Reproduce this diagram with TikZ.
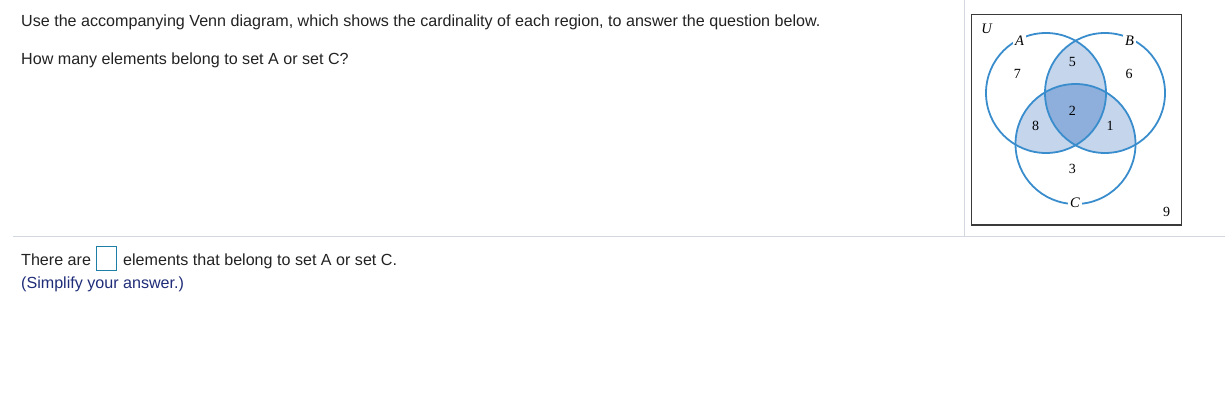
\documentclass[tikz,border=0pt]{standalone}
\usepackage{fontspec}
\setmainfont{Liberation Sans}
\newfontfamily\serifnum{Liberation Serif}
\definecolor{vennline}{HTML}{3A8DCC}
\definecolor{lightfill}{HTML}{C4D5EC}
\definecolor{darkfill}{HTML}{8EAFDB}
\definecolor{sepline}{HTML}{D3D7E0}
\definecolor{boxline}{HTML}{3A3A3A}
\definecolor{ansbox}{HTML}{1E7FA6}
\definecolor{hintblue}{HTML}{1F2C78}
\definecolor{maintext}{HTML}{222222}
\begin{document}
\begin{tikzpicture}[x=1pt,y=-1pt,
  qtext/.style={anchor=base west,inner sep=0pt,font=\fontsize{16.1}{18}\selectfont,text=maintext},
  setcircle/.style={circle,draw=vennline,line width=1.8pt,minimum size=120pt,inner sep=0pt},
  setlabel/.style={fill=white,inner xsep=2.5pt,inner ysep=1pt,font=\serifnum\itshape\fontsize{14.5}{16}\selectfont},
  count/.style={inner sep=0pt,font=\serifnum\fontsize{14}{16}\selectfont}]
\useasboundingbox (0,0) rectangle (1225,412);
% separators
\coordinate (vtop) at (964,0);
\coordinate (vbot) at (964,236);
\coordinate (hl) at (13,236);
\coordinate (hr) at (1225,236);
\draw[sepline,line width=0.9pt] (vtop) -- (vbot);
\draw[sepline,line width=0.9pt] (hl) -- (hr);
% texts
\node[qtext] (q1) at (21,27) {Use the accompanying Venn diagram, which shows the cardinality of each region, to answer the question below.};
\node[qtext] (q2) at (21,64) {How many elements belong to set A or set C?};
\node[qtext] (a1) at (21,265) {There are};
\node[draw=ansbox,line width=0.9pt,minimum width=20pt,minimum height=24pt,inner sep=0pt] (ans) at (106.7,258.3) {};
\node[qtext] (a2) at (123,265) {elements that belong to set A or set C.};
\node[qtext,text=hintblue] (hint) at (21,288.5) {(Simplify your answer.)};
% universe box
\node[draw=boxline,line width=1.4pt,minimum width=210pt,minimum height=210.5pt,inner sep=0pt] (U) at (1076.7,119.7) {};
% fills
\begin{scope}
  \clip (1046,93) circle (60);
  \fill[lightfill] (1105,93) circle (60);
  \fill[lightfill] (1075.5,144) circle (60);
\end{scope}
\begin{scope}
  \clip (1105,93) circle (60);
  \fill[lightfill] (1075.5,144) circle (60);
\end{scope}
\begin{scope}
  \clip (1046,93) circle (60);
  \clip (1105,93) circle (60);
  \fill[darkfill] (1075.5,144) circle (60);
\end{scope}
% circles
\node[setcircle] (A) at (1046,93) {};
\node[setcircle] (B) at (1105,93) {};
\node[setcircle] (C) at (1075.5,144) {};
% labels
\node[setlabel] (lU) at (986.7,29) {U};
\node[setlabel] (lA) at (1019.5,40.5) {A};
\node[setlabel] (lB) at (1129.5,40.5) {B};
\node[setlabel] (lC) at (1075,202.5) {C};
% counts
\node[count] (n7) at (1017.3,74) {7};
\node[count] (n5) at (1072.3,61.7) {5};
\node[count] (n6) at (1129,74) {6};
\node[count] (n2) at (1072.3,110.7) {2};
\node[count] (n8) at (1035.7,125.7) {8};
\node[count] (n1) at (1110,125.7) {1};
\node[count] (n3) at (1072.3,168.7) {3};
\node[count] (n9) at (1166.7,211.7) {9};
\end{tikzpicture}
\end{document}
